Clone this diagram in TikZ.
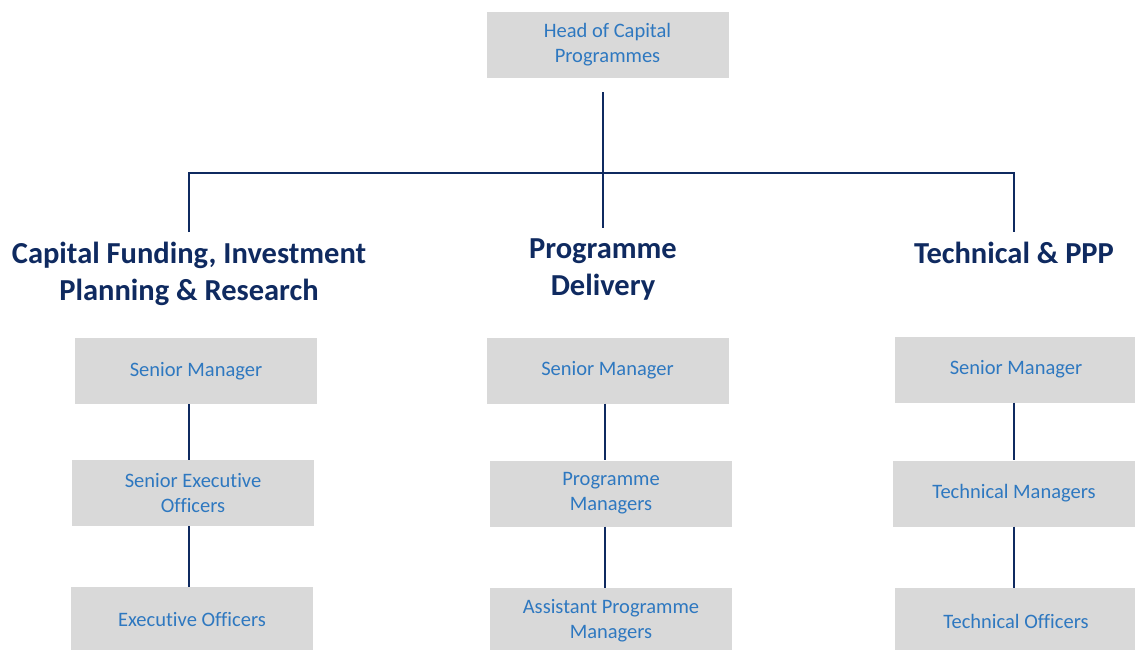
\documentclass[tikz,border=0pt]{standalone}
\usepackage{fontspec}
\setmainfont[Ligatures=NoCommon]{Carlito}
\definecolor{boxgray}{HTML}{D9D9D9}
\definecolor{boxtext}{HTML}{2E78C0}
\definecolor{navy}{HTML}{0F2A60}

\begin{document}
\begin{tikzpicture}[x=1pt,y=-1pt]
\useasboundingbox (0,0) rectangle (1135,650);
\begin{scope}
	\tikzstyle{every node}=[align=center]
	\tikzstyle{post}=[fill=boxgray, text=boxtext, minimum width=242pt, minimum height=66pt, inner sep=0pt, font=\fontsize{20.5}{25}\selectfont]
	\tikzstyle{unit}=[text=navy, inner sep=3pt, font=\bfseries\fontsize{30.5}{37}\selectfont]
	\tikzstyle{link}=[draw=navy, line width=2.7pt]
	\node[post] (head) at (607.5,45) {Head of Capital\\Programmes};

	\node[unit] (cf) at (189,274) {Capital Funding, Investment\\Planning \& Research};
	\node[unit] (pd) at (603,269.5) {Programme\\Delivery};
	\node[unit] (tp) at (1014,253) {Technical \& PPP};

	\node[post] (cfsm) at (196,371) {Senior Manager};
	\node[post] (cfseo) at (193,493) {Senior Executive\\Officers};
	\node[post] (cfeo) at (192,620) {Executive Officers};

	\node[post] (pdsm) at (607.5,370.5) {Senior Manager};
	\node[post] (pdpm) at (611,493.5) {Programme\\Managers};
	\node[post] (pdapm) at (611,621) {Assistant Programme\\Managers};

	\node[post] (tpsm) at (1016,369.5) {Senior Manager};
	\node[post] (tptm) at (1014,493.5) {Technical Managers};
	\node[post] (tpto) at (1016,621) {Technical Officers};

	\coordinate (bar) at (603,173);
	\draw[link, shorten <=14pt, shorten >=8pt] (head.south -| pd.north) -- (pd.north);
	\draw[link, shorten <=7pt, shorten >=7pt] (cf.north) |- (bar) -| (tp.north);

	\draw[link] (cfsm.south -| cf.north) -- (cfseo.north -| cf.north);
	\draw[link] (cfseo.south -| cf.north) -- (cfeo.north -| cf.north);
	\draw[link] (pdsm.south -| 605,0) -- (pdpm.north -| 605,0);
	\draw[link] (pdpm.south -| 605,0) -- (pdapm.north -| 605,0);
	\draw[link] (tpsm.south -| tp.north) -- (tptm.north -| tp.north);
	\draw[link] (tptm.south -| tp.north) -- (tpto.north -| tp.north);
\end{scope}
\end{tikzpicture}
\end{document}
